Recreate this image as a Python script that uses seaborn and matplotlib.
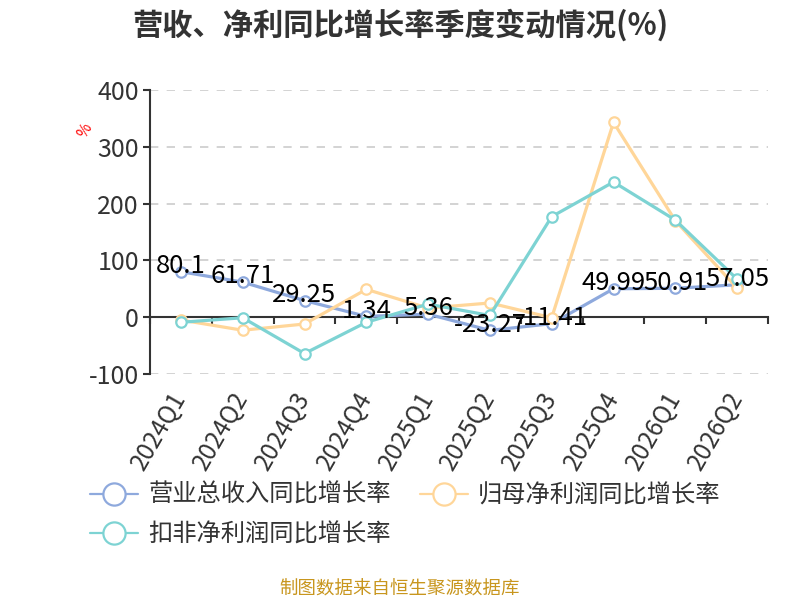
import matplotlib
matplotlib.use("Agg")
import matplotlib.pyplot as plt
from matplotlib.lines import Line2D
import seaborn as sns
import pandas as pd

quarters = ["2024Q1", "2024Q2", "2024Q3", "2024Q4", "2025Q1",
            "2025Q2", "2025Q3", "2025Q4", "2026Q1", "2026Q2"]
revenue_yoy = [80.1, 61.71, 29.25, 1.34, 5.36, -23.27, -11.41, 49.99, 50.91, 57.05]
netprofit_yoy = [-5, -23, -12, 49, 16, 25, -1, 343, 170, 51]
deducted_yoy = [-9, -1, -64, -9, 23, 3, 177, 238, 171, 67]

series_names = ["营业总收入同比增长率", "归母净利润同比增长率", "扣非净利润同比增长率"]
colors = ["#8EA9DD", "#FFD699", "#7DD3D3"]
title = "营收、净利同比增长率季度变动情况(%)"
footer = "制图数据来自恒生聚源数据库"
yticks = [-100, 0, 100, 200, 300, 400]

sns.set_theme(style="white")
plt.rcParams["font.family"] = ["Noto Sans CJK SC", "DejaVu Sans"]

df = pd.DataFrame({
    "quarter": quarters * 3,
    "x": list(range(len(quarters))) * 3,
    "value": revenue_yoy + netprofit_yoy + deducted_yoy,
    "series": [series_names[0]] * 10 + [series_names[1]] * 10 + [series_names[2]] * 10,
})

fig = plt.figure(figsize=(8, 6), dpi=100)
ax = fig.add_axes([0.1875, 0.3767, 0.7725, 0.4733])

for i, name in enumerate(series_names):
    sub = df[df["series"] == name]
    sns.lineplot(data=sub, x="x", y="value", ax=ax, color=colors[i], linewidth=2.3,
                 marker="o", markersize=7.5, markerfacecolor="white",
                 markeredgecolor=colors[i], markeredgewidth=1.6, legend=False,
                 zorder=3 + i)

for xi, v in enumerate(revenue_yoy):
    ax.text(xi, v + 10, f"{v:g}", ha="center", va="center", fontsize=18.5,
            color="black", zorder=10)

ax.set_xlim(-0.5, len(quarters) - 0.5)
ax.set_ylim(-100, 400)
ax.set_yticks(yticks)
ax.set_yticklabels([str(t) for t in yticks])
ax.grid(axis="y", color="#cccccc", linestyle=(0, (5, 5)), linewidth=1.2)
ax.set_axisbelow(True)
for s in ["top", "right"]:
    ax.spines[s].set_visible(False)
ax.spines["left"].set_color("#333333")
ax.spines["left"].set_linewidth(1.5)
ax.spines["bottom"].set_position(("data", 0))
ax.spines["bottom"].set_color("#333333")
ax.spines["bottom"].set_linewidth(1.5)
ax.spines["bottom"].set_zorder(2)

ax.set_xticks(range(len(quarters)))
ax.set_xticklabels(quarters, rotation=60, ha="right", va="center",
                   rotation_mode="anchor", fontsize=17.5, color="#333333")
ax.set_xticks([i - 0.5 for i in range(len(quarters) + 1)], minor=True)
ax.tick_params(axis="x", which="major", length=0, pad=55)
ax.tick_params(axis="x", which="minor", length=5, width=1.5, color="#333333",
               direction="out", bottom=True)
ax.tick_params(axis="y", length=5, width=1.5, color="#333333", direction="out",
               left=True, labelsize=18, labelcolor="#333333", pad=3)
ax.set_xlabel("")
ax.set_ylabel("")

fig.text(0.5, 0.958, title, ha="center", va="center", fontsize=21.8,
         fontweight="bold", color="#333333")
fig.text(0.106, 0.783, "%", ha="center", va="center", fontsize=11,
         color="red", rotation=60)
fig.text(0.5, 0.018, footer, ha="center", va="center", fontsize=13.3,
         color="#C8961E")

handles = [Line2D([0], [0], color=c, linewidth=1.6, marker="o", markersize=16,
                  markerfacecolor="white", markeredgecolor=c, markeredgewidth=1.6)
           for c in colors]
order = [0, 2, 1]
fig.legend([handles[i] for i in order], [series_names[i] for i in order],
           loc="upper left", bbox_to_anchor=(0.085, 0.233), ncol=2, frameon=False,
           fontsize=17.5, handlelength=2.0, handletextpad=0.4, columnspacing=1.2,
           labelspacing=0.55, labelcolor="#333333")

fig.savefig("out.png", dpi=100)
